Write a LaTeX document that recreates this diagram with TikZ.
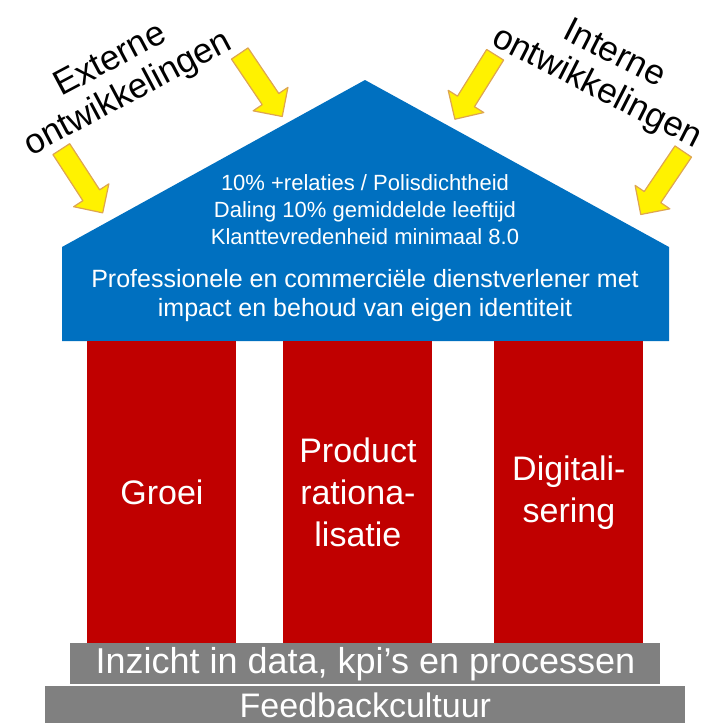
\documentclass[tikz,border=0pt]{standalone}
\usepackage{fontspec}
\setmainfont{Liberation Sans}
\definecolor{roofblue}{RGB}{0,112,192}
\definecolor{pillarred}{RGB}{192,0,0}
\definecolor{basegray}{RGB}{128,128,128}
\definecolor{arrowedge}{RGB}{222,165,80}
\tikzset{
    pillar/.style={fill=pillarred, draw=none, minimum width=74.5pt, minimum height=151pt, anchor=north west,
        text=white, font=\fontsize{17}{21}\selectfont, align=center, inner sep=0pt},
    plinth/.style={fill=basegray, draw=none, anchor=north west, text=white,
        font=\fontsize{17}{19}\selectfont, inner sep=0pt},
    rooftext/.style={text=white, align=center, inner sep=0pt},
    trend/.style={align=center, inner sep=0pt, font=\fontsize{17.5}{19}\selectfont},
    yarrow/.style={fill=yellow, draw=arrowedge, line width=0.6pt, line join=round}
}
\begin{document}
\begin{tikzpicture}[x=0.5pt, y=-0.5pt]
\useasboundingbox (0,0) rectangle (708,723);
% roof
\fill[roofblue] (62,341) -- (62,247) -- (365,80) -- (669,247) -- (669,341) -- cycle;
\node[rooftext, font=\fontsize{11}{13.5}\selectfont] (goals) at (365,210)
    {10\% +relaties / Polisdichtheid\\Daling 10\% gemiddelde leeftijd\\Klanttevredenheid minimaal 8.0};
\node[rooftext, font=\fontsize{12.5}{14.5}\selectfont] (mission) at (365,296)
    {Professionele en commerciële dienstverlener met\\impact en behoud van eigen identiteit};
% pillars
\node[pillar] (groei) at (87,341) {Groei};
\node[pillar] (product) at (283,341) {Product\\rationa-\\lisatie};
\node[pillar] (digital) at (494,341) {Digitali-\\sering};
% base
\node[plinth, minimum width=295pt, minimum height=20.5pt, font=\fontsize{18}{19}\selectfont] (data) at (70,643)
    {Inzicht in data, kpi’s en processen};
\node[plinth, minimum width=320pt, minimum height=18.5pt] (feedback) at (45,686) {Feedbackcultuur};
% influences
\node[trend, rotate=28] (extern) at (120,78) {Externe\\ontwikkelingen};
\node[trend, rotate=-27] (intern) at (605,72) {Interne\\ontwikkelingen};
\foreach \px/\py/\ang in {82/181/-57, 261/85/-56, 475/87/-122, 662/183/-124}
    \draw[yarrow, shift={(\px,\py)}, rotate=\ang]
        (-38,-10) -- (17,-10) -- (17,-21) -- (38,0) -- (17,21) -- (17,10) -- (-38,10) -- cycle;
\end{tikzpicture}
\end{document}
